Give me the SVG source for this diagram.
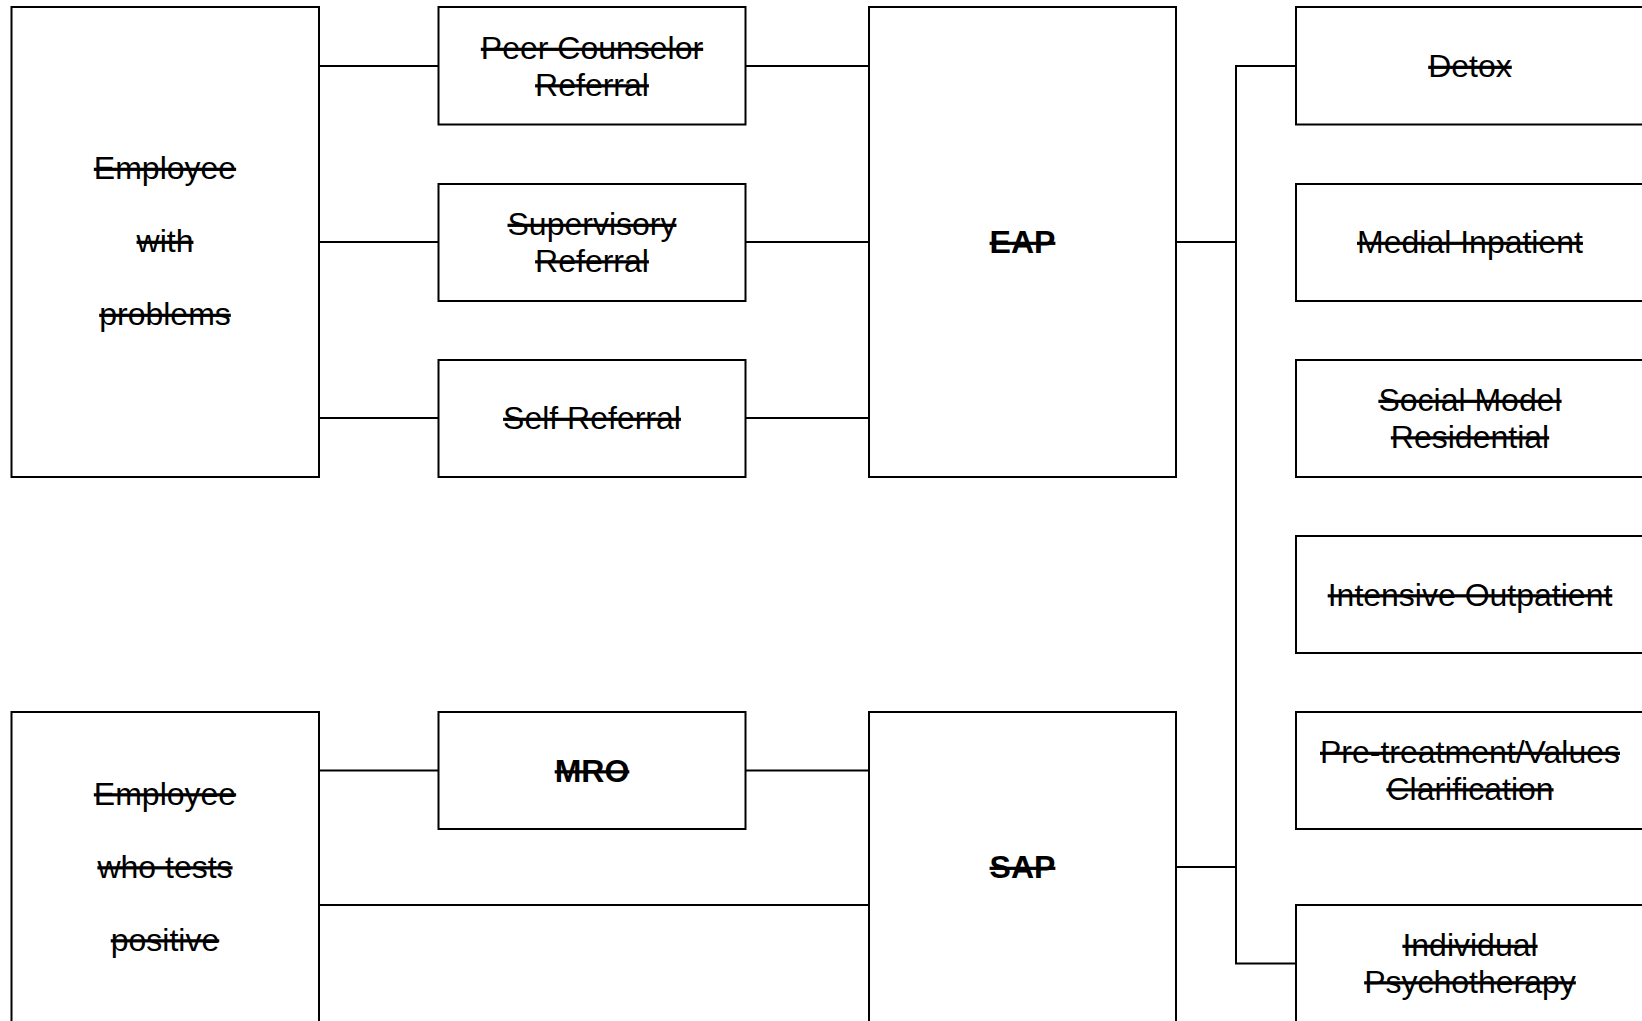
<svg xmlns="http://www.w3.org/2000/svg" width="1642" height="1021" viewBox="0 0 1642 1021">
<style>
.box{fill:#fff;stroke:#000;stroke-width:2}
.ln{fill:none;stroke:#000;stroke-width:2}
text{font-family:"Liberation Sans",Arial,sans-serif;font-size:32px;fill:#000;text-anchor:middle;text-decoration:line-through}
.b{font-weight:bold}
</style>
<rect width="1642" height="1021" fill="#fff"/>
<g id="connectors">
<path class="ln" d="M319 66H438.5M745.5 66H869"/>
<path class="ln" d="M319 242H438.5M745.5 242H869"/>
<path class="ln" d="M319 418H438.5M745.5 418H869"/>
<path class="ln" d="M319 770.5H438.5M745.5 770.5H869"/>
<path class="ln" d="M319 905H869"/>
<path class="ln" d="M1176 242H1236M1176 867H1236"/>
<path class="ln" d="M1296 66H1236V963.5H1296"/>
</g>
<g id="emp1"><rect class="box" x="11.5" y="7" width="307.5" height="470"/>
<text x="165" y="179">Employee</text><text x="165" y="252">with</text><text x="165" y="325">problems</text></g>
<g id="peer"><rect class="box" x="438.5" y="7" width="307" height="117.5"/>
<text x="592" y="59">Peer Counselor</text><text x="592" y="95.5">Referral</text></g>
<g id="sup"><rect class="box" x="438.5" y="184" width="307" height="117"/>
<text x="592" y="235">Supervisory</text><text x="592" y="271.5">Referral</text></g>
<g id="self"><rect class="box" x="438.5" y="360" width="307" height="117"/>
<text x="592" y="429">Self Referral</text></g>
<g id="eap"><rect class="box" x="869" y="7" width="307" height="470"/>
<text class="b" x="1022.5" y="253">EAP</text></g>
<g id="detox"><rect class="box" x="1296" y="7" width="348" height="117.5"/>
<text x="1470" y="77">Detox</text></g>
<g id="medial"><rect class="box" x="1296" y="184" width="348" height="117"/>
<text x="1470" y="253">Medial Inpatient</text></g>
<g id="social"><rect class="box" x="1296" y="360" width="348" height="117"/>
<text x="1470" y="411">Social Model</text><text x="1470" y="447.5">Residential</text></g>
<g id="intensive"><rect class="box" x="1296" y="536" width="348" height="117"/>
<text x="1470" y="605.5">Intensive Outpatient</text></g>
<g id="pretreat"><rect class="box" x="1296" y="712" width="348" height="117"/>
<text x="1470" y="763">Pre-treatment/Values</text><text x="1470" y="799.5">Clarification</text></g>
<g id="indiv"><rect class="box" x="1296" y="905" width="348" height="117"/>
<text x="1470" y="956">Individual</text><text x="1470" y="992.5">Psychotherapy</text></g>
<g id="emp2"><rect class="box" x="11.5" y="712" width="307.5" height="310"/>
<text x="165" y="804.5">Employee</text><text x="165" y="877.5">who tests</text><text x="165" y="950.5">positive</text></g>
<g id="mro"><rect class="box" x="438.5" y="712" width="307" height="117"/>
<text class="b" x="592" y="781.5">MRO</text></g>
<g id="sap"><rect class="box" x="869" y="712" width="307" height="310"/>
<text class="b" x="1022.5" y="878">SAP</text></g>
</svg>
